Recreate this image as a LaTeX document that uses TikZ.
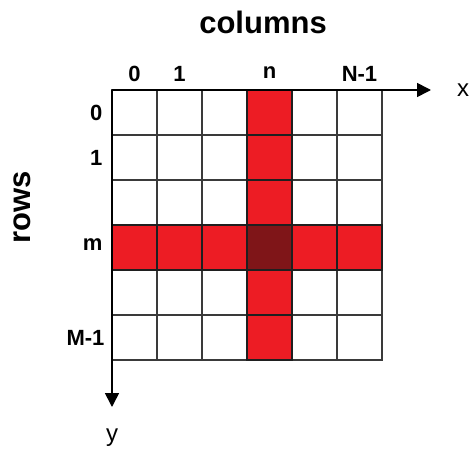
\documentclass[tikz,border=0pt]{standalone}
\usepackage{fontspec}
\setmainfont{Liberation Sans}
\usetikzlibrary{arrows.meta}
\definecolor{cellred}{HTML}{ED1C24}
\definecolor{celldark}{HTML}{7F1518}
\definecolor{gridgray}{HTML}{3A3A3A}
\begin{document}
\begin{tikzpicture}[x=1pt,y=-1pt,
  cellw/.style={draw=gridgray,line width=1.6pt,fill=white,minimum size=45pt,inner sep=0pt,outer sep=0pt},
  cellr/.style={draw=black!88,line width=2.8pt,fill=cellred,minimum size=45pt,inner sep=0pt,outer sep=0pt},
  celld/.style={draw=black!88,line width=2.8pt,fill=celldark,minimum size=45pt,inner sep=0pt,outer sep=0pt},
  axis/.style={line width=1.6pt,-{Triangle[length=14pt,width=14pt]}},
  title/.style={font=\fontsize{31}{34}\selectfont\bfseries},
  lbl/.style={font=\fontsize{22}{24}\selectfont\bfseries},
  axl/.style={font=\fontsize{24}{26}\selectfont}]
\useasboundingbox (0,0) rectangle (470,455);
% white cells
\foreach \i in {0,...,5}{
  \foreach \j in {0,...,5}{
    \node[cellw] (c-\i-\j) at (134.5+45*\j,112.5+45*\i) {};
  }
}
% red column and row
\foreach \k in {0,1,2,4,5}{
  \node[cellr] (rc-\k) at (269.5,112.5+45*\k) {};
  \node[cellr] (rr-\k) at (134.5+45*\k,247.5) {};
}
\node[celld] (center) at (269.5,247.5) {};
% axes
\coordinate (O) at (112,90);
\coordinate (xend) at (431,90);
\coordinate (yend) at (112,407);
\draw[axis] (O) -- (xend);
\draw[axis] (O) -- (yend);
\node[axl] (xl) at (463,90) {x};
\node[axl] (yl) at (112,438) {y};
% titles
\node[title] (cols) at (263,22) {columns};
\node[title,rotate=90] (rows) at (22,207) {rows};
% column labels
\node[lbl] (col0) at (134.5,74) {0};
\node[lbl] (col1) at (179.5,74) {1};
\node[lbl] (coln) at (269.5,73) {n};
\node[lbl] (colN) at (359.5,74) {N-1};
% row labels
\node[lbl,anchor=east] (row0) at (106,112.5) {0};
\node[lbl,anchor=east] (row1) at (106,157.5) {1};
\node[lbl,anchor=east] (rowm) at (106,245) {m};
\node[lbl,anchor=east] (rowM) at (108,337.5) {M-1};
\end{tikzpicture}
\end{document}
